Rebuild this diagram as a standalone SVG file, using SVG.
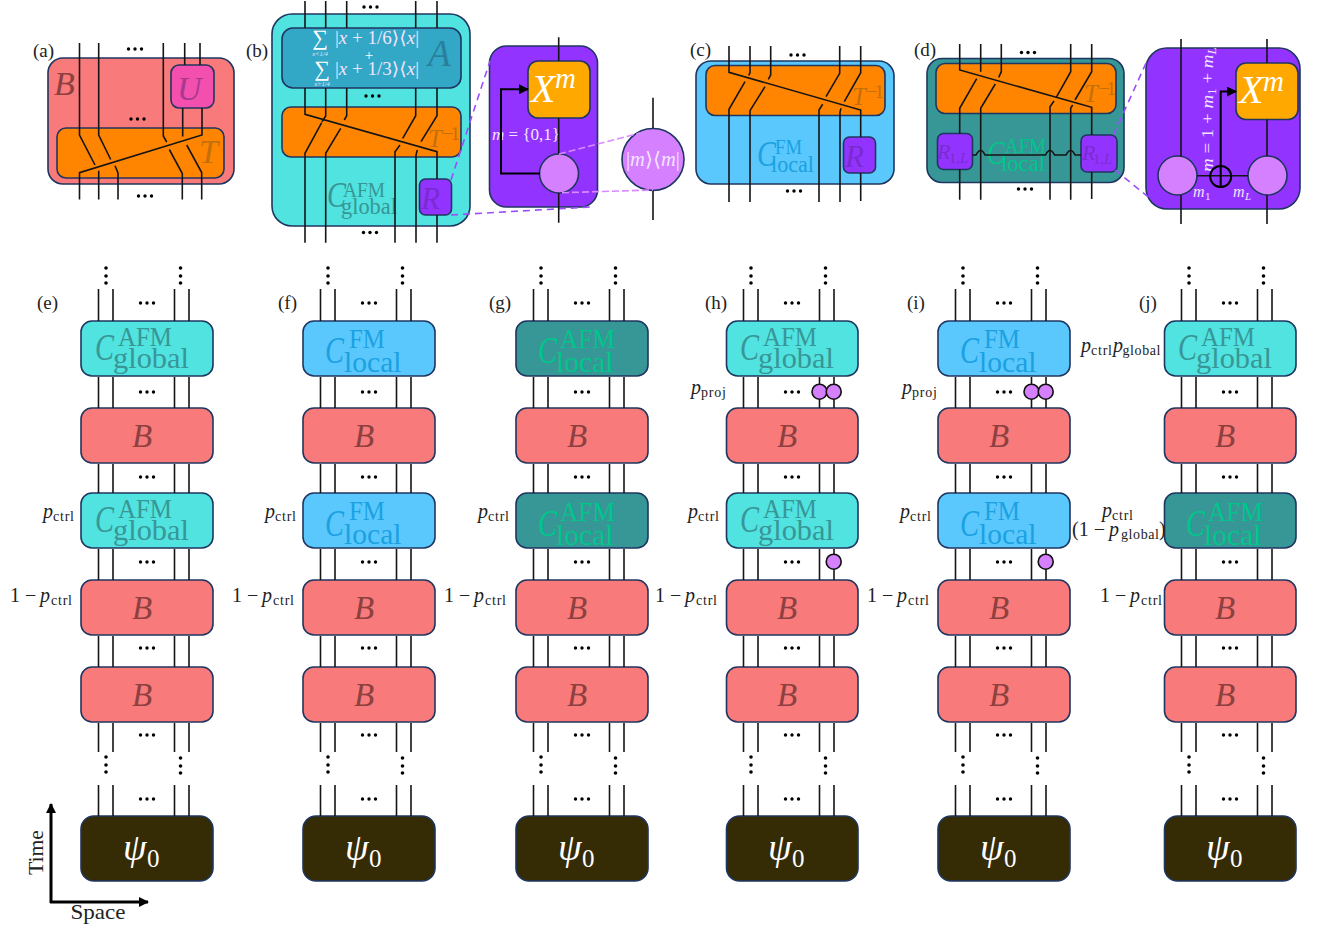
<svg xmlns="http://www.w3.org/2000/svg" width="1320" height="929" viewBox="0 0 1320 929">
<style>
text{font-family:"Liberation Serif","DejaVu Serif",serif;fill:#222}
.i{font-style:italic}
.box{stroke:#1f3660;stroke-width:1.6}
.red{fill:#f87a7a}.cy{fill:#50e3e0}.sky{fill:#5ac8fd}.teal{fill:#379696}.dark{fill:#352b05}.org{fill:#ff8500}.pur{fill:#9333ff}.amb{fill:#ffa800}.mag{fill:#f24fae}.blu{fill:#32a7c6}.lil{fill:#d580ff}
.tb{fill:#8d4040}.tc{fill:#389696}.ts{fill:#1ba1e2}.tl{fill:#00c68b}.to{fill:#c2700a}.tp{fill:#7a2bd0}.tw{fill:#fff}.tv{fill:#f3e4ff}
.w{fill:none;stroke:#151515;stroke-width:1.6}
.a{fill:none;stroke:#000;stroke-width:2}
.dp{fill:none;stroke:#9b4dff;stroke-width:1.6;stroke-dasharray:7 5}
.dl{fill:none;stroke:#d98aff;stroke-width:1.6;stroke-dasharray:7 3}
.pj{fill:#d580ff;stroke:#111;stroke-width:1.6}
.d{fill:#000}
</style>
<defs>
<marker id="ah" viewBox="0 0 10 10" refX="9" refY="5" markerWidth="5" markerHeight="5" orient="auto"><path d="M0 0L10 5L0 10z" fill="#000"/></marker>
<marker id="ah2" viewBox="0 0 10 10" refX="9" refY="5" markerWidth="3.4" markerHeight="3.4" orient="auto"><path d="M0 0L10 5L0 10z" fill="#000"/></marker>
<g id="dots"><circle cx="-6.5" cy="0" r="1.7"/><circle cx="0" cy="0" r="1.7"/><circle cx="6.5" cy="0" r="1.7"/></g>
<g id="col">
<path class="w" d="M17.5 289V321M32 289V321M93.5 289V321M108 289V321M17.5 377V408M32 377V408M93.5 377V408M108 377V408M17.5 464V493M32 464V493M93.5 464V493M108 464V493M17.5 549V580M32 549V580M93.5 549V580M108 549V580M17.5 636V667M32 636V667M93.5 636V667M108 636V667M17.5 723V752M32 723V752M93.5 723V752M108 723V752M17.5 785V816M32 785V816M93.5 785V816M108 785V816"/>
<use href="#dots" x="66" y="303"/><use href="#dots" x="66" y="392"/><use href="#dots" x="66" y="477"/><use href="#dots" x="66" y="562"/><use href="#dots" x="66" y="648"/><use href="#dots" x="66" y="735"/><use href="#dots" x="66" y="799"/>
<circle cx="25" cy="268" r="1.8"/><circle cx="25" cy="276" r="1.8"/><circle cx="25" cy="283" r="1.8"/><circle cx="99.5" cy="268" r="1.8"/><circle cx="99.5" cy="276" r="1.8"/><circle cx="99.5" cy="283" r="1.8"/>
<circle cx="25" cy="757" r="1.8"/><circle cx="25" cy="765" r="1.8"/><circle cx="25" cy="772" r="1.8"/><circle cx="99.5" cy="758" r="1.8"/><circle cx="99.5" cy="766" r="1.8"/><circle cx="99.5" cy="773" r="1.8"/>
</g>
</defs>

<g id="panel-a">
<rect class="box red" x="48" y="58" width="186" height="126" rx="15"/>
<text class="i tb" x="54" y="95" font-size="34">B</text>
<g id="a-T"><rect class="box org" x="57" y="128" width="167" height="50" rx="9"/><text class="i to" x="199" y="163" font-size="34">T</text></g>
<g id="a-U"><rect class="box mag" x="171" y="65" width="43" height="43" rx="8"/><text class="i" style="fill:#a8398f" x="177" y="100" font-size="34">U</text></g>
<text x="33" y="57" font-size="19">(a)</text>
</g>

<g id="panel-b">
<rect class="box cy" x="272" y="14" width="198" height="212" rx="20"/>
<g id="b-A"><rect class="box blu" x="282" y="28" width="179" height="60" rx="11"/>
<text class="tw" x="320" y="45" font-size="22" text-anchor="middle">∑</text>
<text class="tv" x="335" y="44" font-size="18" textLength="84" lengthAdjust="spacingAndGlyphs">|<tspan class="i tv">x</tspan> + 1/6⟩⟨<tspan class="i tv">x</tspan>|</text>
<text class="i tv" x="320" y="56" font-size="6.5" text-anchor="middle">x&lt;1/4</text>
<text class="tw" x="369" y="60" font-size="15" text-anchor="middle">+</text>
<text class="tw" x="322" y="76" font-size="22" text-anchor="middle">∑</text>
<text class="tv" x="335" y="75" font-size="18" textLength="84" lengthAdjust="spacingAndGlyphs">|<tspan class="i tv">x</tspan> + 1/3⟩⟨<tspan class="i tv">x</tspan>|</text>
<text class="i tv" x="322" y="86" font-size="6.5" text-anchor="middle">x&gt;1/4</text>
<text class="i" style="fill:#2a7f9c" x="428" y="66" font-size="37">A</text></g>
<g id="b-T"><rect class="box org" x="282" y="107" width="179" height="50" rx="9"/><text class="i to" x="428" y="147" font-size="25">T</text><text class="to" x="443" y="140" font-size="19" textLength="17">−1</text></g>
<text class="i tc" x="327" y="207" font-size="36" textLength="19" lengthAdjust="spacingAndGlyphs">C</text>
<text class="tc" x="343" y="197" font-size="21" textLength="42" lengthAdjust="spacingAndGlyphs">AFM</text>
<text class="tc" x="341" y="214" font-size="23" textLength="56" lengthAdjust="spacingAndGlyphs">global</text>
<g id="b-R"><rect class="box pur" x="419.500" y="179" width="32" height="36" rx="6"/><text class="i tp" x="421" y="209" font-size="31">R</text></g>
<text x="246" y="57" font-size="19">(b)</text>
</g>

<g id="b-zoom">
<rect class="box pur" x="489.500" y="46" width="108" height="161" rx="17"/>
<g id="b-X"><rect class="box amb" x="528" y="61" width="62" height="57" rx="10"/><text class="i tw" x="531" y="102" font-size="40">X</text><text class="i tw" x="555" y="88" font-size="29">m</text></g>
<text class="tv" x="492" y="140" font-size="17" textLength="68" lengthAdjust="spacingAndGlyphs"><tspan class="i tv">m</tspan> = {0,1}</text>
<circle id="b-meas" class="box lil" cx="559" cy="173.500" r="19.500"/>
</g>
<g id="b-proj"><circle class="box lil" cx="653" cy="159.500" r="31"/><text class="tv" x="626" y="166" font-size="20" textLength="54" lengthAdjust="spacingAndGlyphs">|<tspan class="i tv">m</tspan>⟩⟨<tspan class="i tv">m</tspan>|</text></g>

<g id="panel-c">
<rect class="box sky" x="696" y="61" width="198" height="123" rx="15"/>
<g id="c-T"><rect class="box org" x="706" y="65.500" width="179" height="50" rx="9"/><text class="i to" x="852" y="105" font-size="25">T</text><text class="to" x="867" y="98" font-size="19" textLength="17">−1</text></g>
<text class="i ts" x="757" y="166" font-size="36" textLength="19" lengthAdjust="spacingAndGlyphs">C</text>
<text class="ts" x="775" y="154" font-size="21" textLength="27" lengthAdjust="spacingAndGlyphs">FM</text>
<text class="ts" x="771" y="172" font-size="23" textLength="43" lengthAdjust="spacingAndGlyphs">local</text>
<g id="c-R"><rect class="box pur" x="843.500" y="137" width="32" height="36" rx="6"/><text class="i tp" x="845" y="167" font-size="31">R</text></g>
<text x="690" y="56" font-size="19">(c)</text>
</g>

<g id="panel-d">
<rect class="box teal" x="927" y="58.500" width="197" height="124" rx="15"/>
<g id="d-T"><rect class="box org" x="936" y="63.500" width="180" height="50" rx="9"/><text class="i to" x="1084" y="102" font-size="25">T</text><text class="to" x="1099" y="95" font-size="19" textLength="17">−1</text></g>
<text class="i tl" x="987" y="164" font-size="34" textLength="18" lengthAdjust="spacingAndGlyphs">C</text>
<text class="tl" x="1005" y="152.500" font-size="21" textLength="41" lengthAdjust="spacingAndGlyphs">AFM</text>
<text class="tl" x="1001" y="170.500" font-size="23" textLength="44" lengthAdjust="spacingAndGlyphs">local</text>
<g id="d-R1"><rect class="box pur" x="937.500" y="133.500" width="35" height="36" rx="6"/><text class="i tp" x="937" y="159" font-size="22">R</text><text class="tp" x="949" y="163" font-size="14" textLength="19" lengthAdjust="spacingAndGlyphs">1,<tspan class="i tp">L</tspan></text></g>
<g id="d-R2"><rect class="box pur" x="1081" y="135" width="36" height="37" rx="6"/><text class="i tp" x="1082" y="160" font-size="22">R</text><text class="tp" x="1093" y="164" font-size="14" textLength="19" lengthAdjust="spacingAndGlyphs">1,<tspan class="i tp">L</tspan></text></g>
<text x="914" y="56" font-size="19">(d)</text>
</g>

<g id="d-zoom">
<rect class="box pur" x="1146" y="48" width="154" height="161" rx="21"/>
<g id="d-X"><rect class="box amb" x="1236" y="63" width="62" height="56.500" rx="10"/><text class="i tw" x="1239" y="103" font-size="40">X</text><text class="i tw" x="1263" y="91" font-size="29">m</text></g>
<circle id="d-m1" class="box lil" cx="1177.500" cy="175.500" r="19.500"/>
<circle id="d-mL" class="box lil" cx="1267.500" cy="175.500" r="19.500"/>
<text class="tv" transform="translate(1213 172) rotate(-90)" font-size="17" textLength="125" lengthAdjust="spacingAndGlyphs"><tspan class="i tv">m</tspan> = 1 + <tspan class="i tv">m</tspan><tspan font-size="12" dy="3">1</tspan><tspan dy="-3"> + </tspan><tspan class="i tv">m</tspan><tspan class="i tv" font-size="12" dy="3">L</tspan></text>
<text class="i tv" x="1193" y="197" font-size="16">m</text><text class="tv" x="1205" y="200" font-size="11">1</text>
<text class="i tv" x="1233" y="197" font-size="16">m</text><text class="i tv" x="1245" y="200" font-size="11">L</text>
</g>

<!-- column nodes -->
<g id="e-c1"><rect class="box cy" x="81" y="321" width="132" height="55" rx="11"/><text class="i tc" x="95" y="360" font-size="38" textLength="19" lengthAdjust="spacingAndGlyphs">C</text><text class="tc" x="118" y="346" font-size="27" textLength="54" lengthAdjust="spacingAndGlyphs">AFM</text><text class="tc" x="113" y="368" font-size="30" textLength="76" lengthAdjust="spacingAndGlyphs">global</text></g>
<g id="e-b1"><rect class="box red" x="81" y="408" width="132" height="55" rx="11"/><text class="i tb" x="132" y="447" font-size="33">B</text></g>
<g id="e-c2"><rect class="box cy" x="81" y="493" width="132" height="55" rx="11"/><text class="i tc" x="95" y="532" font-size="38" textLength="19" lengthAdjust="spacingAndGlyphs">C</text><text class="tc" x="118" y="518" font-size="27" textLength="54" lengthAdjust="spacingAndGlyphs">AFM</text><text class="tc" x="113" y="540" font-size="30" textLength="76" lengthAdjust="spacingAndGlyphs">global</text></g>
<g id="e-b2"><rect class="box red" x="81" y="580" width="132" height="55" rx="11"/><text class="i tb" x="132" y="619" font-size="33">B</text></g>
<g id="e-b3"><rect class="box red" x="81" y="667" width="132" height="55" rx="11"/><text class="i tb" x="132" y="706" font-size="33">B</text></g>
<g id="e-psi"><rect class="box dark" x="81" y="816" width="132" height="65" rx="13"/><text class="i tw" x="123" y="860" font-size="38">ψ</text><text class="tw" x="147" y="867" font-size="25">0</text></g>

<g id="f-c1"><rect class="box sky" x="303" y="321" width="132" height="55" rx="11"/><text class="i ts" x="325" y="363" font-size="38" textLength="19" lengthAdjust="spacingAndGlyphs">C</text><text class="ts" x="349" y="347.500" font-size="27" textLength="36" lengthAdjust="spacingAndGlyphs">FM</text><text class="ts" x="344" y="371.500" font-size="30" textLength="57.500" lengthAdjust="spacingAndGlyphs">local</text></g>
<g id="f-b1"><rect class="box red" x="303" y="408" width="132" height="55" rx="11"/><text class="i tb" x="354" y="447" font-size="33">B</text></g>
<g id="f-c2"><rect class="box sky" x="303" y="493" width="132" height="55" rx="11"/><text class="i ts" x="325" y="536" font-size="38" textLength="19" lengthAdjust="spacingAndGlyphs">C</text><text class="ts" x="349" y="520" font-size="27" textLength="36" lengthAdjust="spacingAndGlyphs">FM</text><text class="ts" x="344" y="544" font-size="30" textLength="57.500" lengthAdjust="spacingAndGlyphs">local</text></g>
<g id="f-b2"><rect class="box red" x="303" y="580" width="132" height="55" rx="11"/><text class="i tb" x="354" y="619" font-size="33">B</text></g>
<g id="f-b3"><rect class="box red" x="303" y="667" width="132" height="55" rx="11"/><text class="i tb" x="354" y="706" font-size="33">B</text></g>
<g id="f-psi"><rect class="box dark" x="303" y="816" width="132" height="65" rx="13"/><text class="i tw" x="345" y="860" font-size="38">ψ</text><text class="tw" x="369" y="867" font-size="25">0</text></g>

<g id="g-c1"><rect class="box teal" x="516" y="321" width="132" height="55" rx="11"/><text class="i tl" x="538" y="363" font-size="38" textLength="19" lengthAdjust="spacingAndGlyphs">C</text><text class="tl" x="560" y="347.500" font-size="27" textLength="55" lengthAdjust="spacingAndGlyphs">AFM</text><text class="tl" x="556" y="371.500" font-size="30" textLength="57.500" lengthAdjust="spacingAndGlyphs">local</text></g>
<g id="g-b1"><rect class="box red" x="516" y="408" width="132" height="55" rx="11"/><text class="i tb" x="567" y="447" font-size="33">B</text></g>
<g id="g-c2"><rect class="box teal" x="516" y="493" width="132" height="55" rx="11"/><text class="i tl" x="538" y="536" font-size="38" textLength="19" lengthAdjust="spacingAndGlyphs">C</text><text class="tl" x="560" y="520.500" font-size="27" textLength="55" lengthAdjust="spacingAndGlyphs">AFM</text><text class="tl" x="556" y="544.500" font-size="30" textLength="57.500" lengthAdjust="spacingAndGlyphs">local</text></g>
<g id="g-b2"><rect class="box red" x="516" y="580" width="132" height="55" rx="11"/><text class="i tb" x="567" y="619" font-size="33">B</text></g>
<g id="g-b3"><rect class="box red" x="516" y="667" width="132" height="55" rx="11"/><text class="i tb" x="567" y="706" font-size="33">B</text></g>
<g id="g-psi"><rect class="box dark" x="516" y="816" width="132" height="65" rx="13"/><text class="i tw" x="558" y="860" font-size="38">ψ</text><text class="tw" x="582" y="867" font-size="25">0</text></g>

<g id="h-c1"><rect class="box cy" x="726.500" y="321" width="131.500" height="55" rx="11"/><text class="i tc" x="740" y="360" font-size="38" textLength="19" lengthAdjust="spacingAndGlyphs">C</text><text class="tc" x="763" y="346" font-size="27" textLength="54" lengthAdjust="spacingAndGlyphs">AFM</text><text class="tc" x="758" y="368" font-size="30" textLength="76" lengthAdjust="spacingAndGlyphs">global</text></g>
<g id="h-b1"><rect class="box red" x="726.500" y="408" width="131.500" height="55" rx="11"/><text class="i tb" x="777" y="447" font-size="33">B</text></g>
<g id="h-c2"><rect class="box cy" x="726.500" y="493" width="131.500" height="55" rx="11"/><text class="i tc" x="740" y="532" font-size="38" textLength="19" lengthAdjust="spacingAndGlyphs">C</text><text class="tc" x="763" y="518" font-size="27" textLength="54" lengthAdjust="spacingAndGlyphs">AFM</text><text class="tc" x="758" y="540" font-size="30" textLength="76" lengthAdjust="spacingAndGlyphs">global</text></g>
<g id="h-b2"><rect class="box red" x="726.500" y="580" width="131.500" height="55" rx="11"/><text class="i tb" x="777" y="619" font-size="33">B</text></g>
<g id="h-b3"><rect class="box red" x="726.500" y="667" width="131.500" height="55" rx="11"/><text class="i tb" x="777" y="706" font-size="33">B</text></g>
<g id="h-psi"><rect class="box dark" x="726.500" y="816" width="131.500" height="65" rx="13"/><text class="i tw" x="768" y="860" font-size="38">ψ</text><text class="tw" x="792" y="867" font-size="25">0</text></g>

<g id="i-c1"><rect class="box sky" x="938" y="321" width="132" height="55" rx="11"/><text class="i ts" x="960" y="363" font-size="38" textLength="19" lengthAdjust="spacingAndGlyphs">C</text><text class="ts" x="984" y="347.500" font-size="27" textLength="36" lengthAdjust="spacingAndGlyphs">FM</text><text class="ts" x="979" y="371.500" font-size="30" textLength="57.500" lengthAdjust="spacingAndGlyphs">local</text></g>
<g id="i-b1"><rect class="box red" x="938" y="408" width="132" height="55" rx="11"/><text class="i tb" x="989" y="447" font-size="33">B</text></g>
<g id="i-c2"><rect class="box sky" x="938" y="493" width="132" height="55" rx="11"/><text class="i ts" x="960" y="536" font-size="38" textLength="19" lengthAdjust="spacingAndGlyphs">C</text><text class="ts" x="984" y="520" font-size="27" textLength="36" lengthAdjust="spacingAndGlyphs">FM</text><text class="ts" x="979" y="544" font-size="30" textLength="57.500" lengthAdjust="spacingAndGlyphs">local</text></g>
<g id="i-b2"><rect class="box red" x="938" y="580" width="132" height="55" rx="11"/><text class="i tb" x="989" y="619" font-size="33">B</text></g>
<g id="i-b3"><rect class="box red" x="938" y="667" width="132" height="55" rx="11"/><text class="i tb" x="989" y="706" font-size="33">B</text></g>
<g id="i-psi"><rect class="box dark" x="938" y="816" width="132" height="65" rx="13"/><text class="i tw" x="980" y="860" font-size="38">ψ</text><text class="tw" x="1004" y="867" font-size="25">0</text></g>

<g id="j-c1"><rect class="box cy" x="1164.500" y="321" width="131.500" height="55" rx="11"/><text class="i tc" x="1178" y="360" font-size="38" textLength="19" lengthAdjust="spacingAndGlyphs">C</text><text class="tc" x="1201" y="346" font-size="27" textLength="54" lengthAdjust="spacingAndGlyphs">AFM</text><text class="tc" x="1196" y="368" font-size="30" textLength="76" lengthAdjust="spacingAndGlyphs">global</text></g>
<g id="j-b1"><rect class="box red" x="1164.500" y="408" width="131.500" height="55" rx="11"/><text class="i tb" x="1215" y="447" font-size="33">B</text></g>
<g id="j-c2"><rect class="box teal" x="1164.500" y="493" width="131.500" height="55" rx="11"/><text class="i tl" x="1186" y="536" font-size="38" textLength="19" lengthAdjust="spacingAndGlyphs">C</text><text class="tl" x="1208" y="520.500" font-size="27" textLength="55" lengthAdjust="spacingAndGlyphs">AFM</text><text class="tl" x="1204" y="544.500" font-size="30" textLength="57.500" lengthAdjust="spacingAndGlyphs">local</text></g>
<g id="j-b2"><rect class="box red" x="1164.500" y="580" width="131.500" height="55" rx="11"/><text class="i tb" x="1215" y="619" font-size="33">B</text></g>
<g id="j-b3"><rect class="box red" x="1164.500" y="667" width="131.500" height="55" rx="11"/><text class="i tb" x="1215" y="706" font-size="33">B</text></g>
<g id="j-psi"><rect class="box dark" x="1164.500" y="816" width="131.500" height="65" rx="13"/><text class="i tw" x="1206" y="860" font-size="38">ψ</text><text class="tw" x="1230" y="867" font-size="25">0</text></g>

<g id="connectors">
<g class="d"><use href="#dots" x="135" y="49"/><use href="#dots" x="137.500" y="119"/><use href="#dots" x="145" y="196"/><use href="#dots" x="370.500" y="7"/><use href="#dots" x="372.500" y="96"/><use href="#dots" x="370" y="232.500"/><use href="#dots" x="797.500" y="55"/><use href="#dots" x="794" y="191"/><use href="#dots" x="1028" y="52.500"/><use href="#dots" x="1025" y="189"/></g>
<path class="w" d="M79.500 43V135L95 165M98.700 43V135L110.700 159.500M163.300 43V136L166.700 142M169.300 149.500L182.300 173.500V199.500M186.700 145L201.700 172.500V199.500M184.700 43V65M200 43V65M182.700 108V136.500M202 108V135L79.500 172.700V199.500M98.700 170.700V199.500M115 165.700L118 173V199.500"/>
<path class="w" d="M305 1V28M325.700 1V28M346.700 1V28M415.700 1V28M437 1V28M305 88V114.300L437 151.700V179M437 215V242.700M325.700 88V116L322 121.700M321.700 122.700L305 153.300V242.700M346.700 88V115.700L344.300 120M340.700 128.300L325.700 153.300V242.700M415.700 88V115.700L402.700 138.300M400 145L395 151.700V242.700M437 88V115.700L421 141.700M417.300 150L416 155V242.700"/>
<path class="dp" d="M451 180L490 61M451 215L590 207"/>
<path class="w" d="M558.700 37.300V61M558.700 118V154M558.700 193V222.700M653 97.700V128M653 190.500V220"/>
<path class="a" marker-end="url(#ah)" d="M540 173.500H501V89.300H528"/>
<path class="dl" d="M559 154L640 133M562 192.700L653 190"/>
<path class="w" d="M729 46V72.300L860.700 110V137M860.700 173V201M750 46V72.700L748.700 75.500M745 81.700L729 109.300V202M770.700 46V75L768.300 79.300M765 86.700L750 110.700V202M839.700 46V73.300L826 96.700M822.700 104.300L819 110V202M860.700 46V72.700L844.300 101.700M841 108.300L840 112V202"/>
<path class="w" d="M959.700 44V70L1091.700 107.300V135M1091.700 172V199M980.700 44V71.700M976.700 78.700L959.700 108.300V133.500M959.700 169.500V199.700M1001.300 44V71.700L998.700 77.300M995.300 84L980.700 108.300V199.700M1070.700 44V71.700L1056.700 96.700M1054 101L1050 106.700V199.700M1091.700 44V71.700L1075 100M1072.700 105L1070.700 108V199.700"/>
<path class="w" d="M972.500 155H976Q980.700 146 985 155H1045.500Q1050 146 1054.500 155H1066Q1070.700 146 1075 155H1081"/>
<path class="dp" d="M1113.500 135L1146.500 62M1115 170L1152 200"/>
<path class="w" d="M1181 39V156.500M1181 195V224M1267 39V63M1267 119.500V156M1267 195V224M1197 175.700H1248"/>
<circle class="a" cx="1220.700" cy="176.500" r="10.500"/>
<path class="a" marker-end="url(#ah)" d="M1220.700 187V91.500H1236"/>
<g class="d">
<use href="#col" x="81"/><use href="#col" x="303"/><use href="#col" x="516"/><use href="#col" x="726"/><use href="#col" x="938"/><use href="#col" x="1164"/>
</g>
<path class="a" style="stroke-width:3" marker-end="url(#ah2)" d="M51 903V804"/>
<path class="a" style="stroke-width:3" marker-end="url(#ah2)" d="M50 902H148"/>
</g>

<g id="projectors">
<circle class="pj" cx="819.500" cy="391.700" r="7.500"/><circle class="pj" cx="833.700" cy="391.700" r="7.500"/><circle class="pj" cx="833.700" cy="561.700" r="7.500"/>
<circle class="pj" cx="1031.500" cy="391.700" r="7.500"/><circle class="pj" cx="1045.700" cy="391.700" r="7.500"/><circle class="pj" cx="1045.700" cy="561.700" r="7.500"/>
</g>

<g id="labels">
<text x="37" y="309" font-size="19">(e)</text><text x="278" y="309" font-size="19">(f)</text><text x="489" y="309" font-size="19">(g)</text><text x="705" y="309" font-size="19">(h)</text><text x="907" y="309" font-size="19">(i)</text><text x="1139" y="309" font-size="19">(j)</text>
<text x="43" y="518" class="i" font-size="20">p</text><text x="53" y="521" font-size="14" textLength="21">ctrl</text>
<text x="265" y="518" class="i" font-size="20">p</text><text x="275" y="521" font-size="14" textLength="21">ctrl</text>
<text x="478" y="518" class="i" font-size="20">p</text><text x="488" y="521" font-size="14" textLength="21">ctrl</text>
<text x="688" y="518" class="i" font-size="20">p</text><text x="698" y="521" font-size="14" textLength="21">ctrl</text>
<text x="900" y="518" class="i" font-size="20">p</text><text x="910" y="521" font-size="14" textLength="21">ctrl</text>
<text x="10" y="602" font-size="20">1 −</text><text x="40" y="602" class="i" font-size="20">p</text><text x="51" y="605" font-size="14" textLength="21">ctrl</text>
<text x="232" y="602" font-size="20">1 −</text><text x="262" y="602" class="i" font-size="20">p</text><text x="273" y="605" font-size="14" textLength="21">ctrl</text>
<text x="444" y="602" font-size="20">1 −</text><text x="474" y="602" class="i" font-size="20">p</text><text x="485" y="605" font-size="14" textLength="21">ctrl</text>
<text x="655" y="602" font-size="20">1 −</text><text x="685" y="602" class="i" font-size="20">p</text><text x="696" y="605" font-size="14" textLength="21">ctrl</text>
<text x="867" y="602" font-size="20">1 −</text><text x="897" y="602" class="i" font-size="20">p</text><text x="908" y="605" font-size="14" textLength="21">ctrl</text>
<text x="1100" y="602" font-size="20">1 −</text><text x="1130" y="602" class="i" font-size="20">p</text><text x="1141" y="605" font-size="14" textLength="21">ctrl</text>
<text x="691" y="394" class="i" font-size="20">p</text><text x="701" y="397" font-size="14" textLength="25">proj</text>
<text x="902" y="394" class="i" font-size="20">p</text><text x="912" y="397" font-size="14" textLength="25">proj</text>
<text x="1081" y="352" class="i" font-size="20">p</text><text x="1091" y="355" font-size="14" textLength="21">ctrl</text><text x="1113" y="352" class="i" font-size="20">p</text><text x="1122.500" y="355" font-size="14" textLength="38">global</text>
<text x="1102" y="517" class="i" font-size="20">p</text><text x="1112" y="520" font-size="14" textLength="21">ctrl</text>
<text x="1072" y="536" font-size="20">(1 −</text><text x="1109" y="536" class="i" font-size="20">p</text><text x="1121" y="539" font-size="14" textLength="38">global</text><text x="1159" y="536" font-size="20">)</text>
<text transform="translate(43 875) rotate(-90)" font-size="21" textLength="45" lengthAdjust="spacingAndGlyphs">Time</text>
<text x="70.500" y="919" font-size="21" textLength="55" lengthAdjust="spacingAndGlyphs">Space</text>
</g>
</svg>
